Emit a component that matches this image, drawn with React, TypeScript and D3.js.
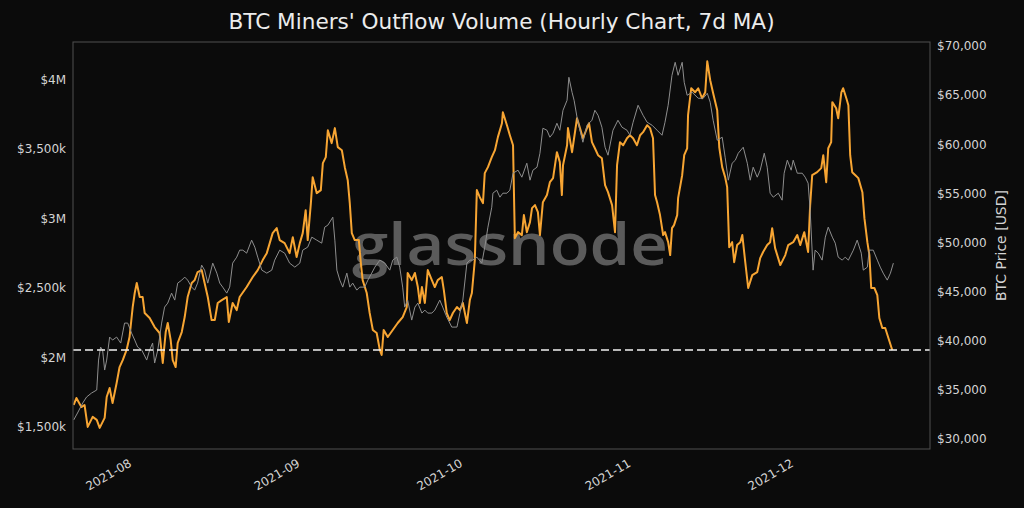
import React, { useRef, useEffect } from "react";
import * as d3 from "d3";

const title = "BTC Miners' Outflow Volume (Hourly Chart, 7d MA)";
const priceAxisLabel = "BTC Price [USD]";
const watermark = "glassnode";

// left axis, in thousands of USD
const volumeTicks = [1500, 2000, 2500, 3000, 3500, 4000];
const volumeTickLabels = ["$1,500k", "$2M", "$2,500k", "$3M", "$3,500k", "$4M"];
const priceTicks = [30000, 35000, 40000, 45000, 50000, 55000, 60000, 65000, 70000];
const monthTicks = ["2021-08-01T00", "2021-09-01T00", "2021-10-01T00", "2021-11-01T00", "2021-12-01T00"];
const monthTickLabels = ["2021-08", "2021-09", "2021-10", "2021-11", "2021-12"];

// miners' outflow volume, 7d MA (thousands of USD)
const outflowVolume: [string, number][] = [
  ["2021-07-22T00", 1657], ["2021-07-22T12", 1707], ["2021-07-23T10", 1642], ["2021-07-24T00", 1657],
  ["2021-07-24T14", 1499], ["2021-07-25T12", 1571], ["2021-07-26T06", 1550], ["2021-07-26T19", 1492],
  ["2021-07-27T17", 1564], ["2021-07-28T02", 1714], ["2021-07-28T15", 1779], ["2021-07-29T04", 1671],
  ["2021-07-29T22", 1815], ["2021-07-30T11", 1930], ["2021-07-31T01", 1980], ["2021-07-31T18", 2053],
  ["2021-08-01T07", 2146], ["2021-08-01T21", 2362], ["2021-08-02T06", 2463], ["2021-08-02T15", 2535],
  ["2021-08-03T04", 2434], ["2021-08-03T17", 2434], ["2021-08-04T02", 2319], ["2021-08-05T00", 2283],
  ["2021-08-05T22", 2218], ["2021-08-06T20", 2175], ["2021-08-07T10", 1959], ["2021-08-07T23", 2182],
  ["2021-08-08T08", 2247], ["2021-08-08T21", 2124], ["2021-08-09T06", 1980], ["2021-08-09T19", 1930],
  ["2021-08-10T04", 2103], ["2021-08-10T22", 2182], ["2021-08-11T11", 2290], ["2021-08-12T00", 2434],
  ["2021-08-12T18", 2535], ["2021-08-13T07", 2556], ["2021-08-13T20", 2614], ["2021-08-14T14", 2628],
  ["2021-08-15T03", 2535], ["2021-08-15T17", 2434], ["2021-08-16T10", 2268], ["2021-08-17T00", 2268],
  ["2021-08-17T13", 2391], ["2021-08-18T07", 2412], ["2021-08-19T05", 2434], ["2021-08-19T14", 2254],
  ["2021-08-20T07", 2391], ["2021-08-21T01", 2340], ["2021-08-21T14", 2434], ["2021-08-22T21", 2506],
  ["2021-08-24T00", 2578], ["2021-08-24T22", 2628], ["2021-08-25T20", 2700], ["2021-08-26T14", 2750],
  ["2021-08-27T03", 2822], ["2021-08-27T16", 2894], ["2021-08-28T10", 2930], ["2021-08-28T23", 2844],
  ["2021-08-29T21", 2822], ["2021-08-30T19", 2750], ["2021-08-31T09", 2865], ["2021-09-01T02", 2722],
  ["2021-09-01T16", 2822], ["2021-09-02T05", 2894], ["2021-09-02T18", 3059], ["2021-09-03T03", 2844],
  ["2021-09-03T17", 3110], ["2021-09-04T01", 3297], ["2021-09-04T19", 3182], ["2021-09-05T13", 3204],
  ["2021-09-05T22", 3398], ["2021-09-06T11", 3441], ["2021-09-06T20", 3635], ["2021-09-07T13", 3542],
  ["2021-09-08T03", 3650], ["2021-09-08T16", 3513], ["2021-09-09T10", 3491], ["2021-09-09T23", 3369],
  ["2021-09-10T12", 3275], ["2021-09-10T21", 3110], ["2021-09-11T06", 2894], ["2021-09-11T19", 2844],
  ["2021-09-12T13", 2844], ["2021-09-12T22", 2678], ["2021-09-13T06", 2556], ["2021-09-14T00", 2463],
  ["2021-09-14T13", 2319], ["2021-09-15T03", 2197], ["2021-09-15T20", 2175], ["2021-09-16T10", 2053],
  ["2021-09-16T18", 2017], ["2021-09-17T03", 2197], ["2021-09-17T21", 2146], ["2021-09-18T19", 2197],
  ["2021-09-19T17", 2247], ["2021-09-20T15", 2290], ["2021-09-21T09", 2362], ["2021-09-21T13", 2607],
  ["2021-09-22T07", 2556], ["2021-09-22T21", 2607], ["2021-09-23T10", 2506], ["2021-09-23T19", 2391],
  ["2021-09-24T04", 2506], ["2021-09-24T17", 2391], ["2021-09-25T06", 2628], ["2021-09-26T00", 2556],
  ["2021-09-26T13", 2506], ["2021-09-27T02", 2556], ["2021-09-27T20", 2578], ["2021-09-28T05", 2484],
  ["2021-09-28T18", 2319], ["2021-09-29T07", 2268], ["2021-09-29T21", 2319], ["2021-09-30T15", 2362],
  ["2021-10-01T04", 2340], ["2021-10-01T17", 2391], ["2021-10-02T11", 2247], ["2021-10-03T00", 2412],
  ["2021-10-03T09", 2463], ["2021-10-03T22", 2700], ["2021-10-04T07", 3204], ["2021-10-04T20", 3153],
  ["2021-10-05T10", 3110], ["2021-10-05T18", 3326], ["2021-10-06T08", 3369], ["2021-10-07T01", 3441],
  ["2021-10-07T15", 3491], ["2021-10-08T04", 3585], ["2021-10-08T22", 3685], ["2021-10-09T02", 3764],
  ["2021-10-09T20", 3671], ["2021-10-10T09", 3599], ["2021-10-10T23", 3527], ["2021-10-11T07", 2858],
  ["2021-10-11T21", 2901], ["2021-10-12T14", 2880], ["2021-10-12T23", 3024], ["2021-10-13T12", 2901],
  ["2021-10-14T02", 2973], ["2021-10-14T11", 3074], ["2021-10-15T00", 3096], ["2021-10-15T13", 3045],
  ["2021-10-15T22", 2880], ["2021-10-16T11", 3117], ["2021-10-17T05", 3168], ["2021-10-17T18", 3261],
  ["2021-10-18T08", 3290], ["2021-10-19T01", 3477], ["2021-10-19T14", 3405], ["2021-10-19T23", 3168],
  ["2021-10-20T04", 3383], ["2021-10-20T22", 3527], ["2021-10-21T02", 3650], ["2021-10-21T20", 3477],
  ["2021-10-22T05", 3577], ["2021-10-22T18", 3721], ["2021-10-23T07", 3650], ["2021-10-23T20", 3577],
  ["2021-10-24T14", 3650], ["2021-10-24T23", 3685], ["2021-10-25T12", 3549], ["2021-10-26T01", 3505],
  ["2021-10-26T15", 3455], ["2021-10-27T08", 3433], ["2021-10-27T22", 3239], ["2021-10-28T11", 3189],
  ["2021-10-29T05", 3096], ["2021-10-29T18", 2901], ["2021-10-30T03", 3383], ["2021-10-30T16", 3549],
  ["2021-10-31T06", 3527], ["2021-10-31T23", 3577], ["2021-11-01T12", 3599], ["2021-11-02T02", 3577],
  ["2021-11-02T19", 3527], ["2021-11-03T09", 3599], ["2021-11-03T22", 3621], ["2021-11-04T16", 3671],
  ["2021-11-05T05", 3650], ["2021-11-05T18", 3577], ["2021-11-06T03", 3168], ["2021-11-06T12", 3117],
  ["2021-11-07T01", 3024], ["2021-11-07T15", 2880], ["2021-11-07T23", 2901], ["2021-11-08T13", 2829],
  ["2021-11-08T22", 2736], ["2021-11-09T06", 2930], ["2021-11-09T15", 2952], ["2021-11-10T05", 3024],
  ["2021-11-10T09", 3146], ["2021-11-11T03", 3311], ["2021-11-11T12", 3455], ["2021-11-12T01", 3505],
  ["2021-11-12T05", 3743], ["2021-11-12T19", 3937], ["2021-11-13T12", 3908], ["2021-11-14T02", 3937],
  ["2021-11-14T19", 3865], ["2021-11-15T09", 3908], ["2021-11-15T18", 4131], ["2021-11-16T07", 3995],
  ["2021-11-16T20", 3901], ["2021-11-17T14", 3778], ["2021-11-17T23", 3512], ["2021-11-18T12", 3369],
  ["2021-11-19T01", 3297], ["2021-11-19T10", 3225], ["2021-11-19T19", 2793], ["2021-11-20T08", 2829],
  ["2021-11-20T17", 2685], ["2021-11-21T06", 2808], ["2021-11-21T20", 2829], ["2021-11-22T05", 2880],
  ["2021-11-22T18", 2685], ["2021-11-23T07", 2499], ["2021-11-24T01", 2592], ["2021-11-24T23", 2614],
  ["2021-11-25T12", 2714], ["2021-11-26T01", 2758], ["2021-11-26T19", 2808], ["2021-11-27T08", 2829],
  ["2021-11-27T17", 2930], ["2021-11-28T06", 2786], ["2021-11-29T05", 2664], ["2021-11-30T03", 2736],
  ["2021-11-30T16", 2808], ["2021-12-01T14", 2829], ["2021-12-02T08", 2880], ["2021-12-02T21", 2808],
  ["2021-12-03T15", 2901], ["2021-12-04T08", 2758], ["2021-12-04T17", 3096], ["2021-12-05T02", 3311],
  ["2021-12-06T00", 3333], ["2021-12-06T18", 3362], ["2021-12-07T03", 3455], ["2021-12-07T16", 3261],
  ["2021-12-08T01", 3505], ["2021-12-08T14", 3549], ["2021-12-08T19", 3837], ["2021-12-09T12", 3793],
  ["2021-12-09T21", 3721], ["2021-12-10T11", 3908], ["2021-12-10T19", 3937], ["2021-12-11T09", 3865],
  ["2021-12-11T18", 3815], ["2021-12-12T02", 3455], ["2021-12-12T11", 3333], ["2021-12-13T01", 3311],
  ["2021-12-13T14", 3290], ["2021-12-14T08", 3189], ["2021-12-14T17", 3002], ["2021-12-15T06", 2829],
  ["2021-12-15T15", 2736], ["2021-12-15T23", 2499], ["2021-12-16T13", 2499], ["2021-12-17T02", 2448],
  ["2021-12-17T11", 2283], ["2021-12-18T00", 2211], ["2021-12-18T13", 2211], ["2021-12-19T03", 2139],
  ["2021-12-19T20", 2053],
];

// BTC price (USD)
const btcPrice: [string, number][] = [
  ["2021-07-22T00", 31904], ["2021-07-22T17", 32617], ["2021-07-23T16", 33635], ["2021-07-24T09", 34245],
  ["2021-07-25T07", 34652], ["2021-07-26T06", 34958], ["2021-07-26T14", 38012], ["2021-07-26T23", 39335],
  ["2021-07-27T08", 39030], ["2021-07-27T17", 36994], ["2021-07-28T02", 38012], ["2021-07-28T15", 40353],
  ["2021-07-29T04", 40048], ["2021-07-29T22", 40353], ["2021-07-30T16", 39742], ["2021-07-31T09", 41778],
  ["2021-07-31T23", 41778], ["2021-08-01T16", 40760], ["2021-08-02T06", 40048], ["2021-08-02T19", 39335],
  ["2021-08-03T13", 39030], ["2021-08-04T11", 38012], ["2021-08-05T00", 39030], ["2021-08-05T13", 39742],
  ["2021-08-05T22", 37707], ["2021-08-06T12", 39030], ["2021-08-07T05", 41778], ["2021-08-07T18", 43407],
  ["2021-08-08T08", 43814], ["2021-08-09T01", 44832], ["2021-08-09T15", 44119], ["2021-08-10T04", 45850],
  ["2021-08-10T22", 46155], ["2021-08-11T11", 46461], ["2021-08-12T00", 46155], ["2021-08-12T18", 45443],
  ["2021-08-13T07", 45137], ["2021-08-13T20", 45850], ["2021-08-14T14", 47682], ["2021-08-15T03", 47173],
  ["2021-08-15T17", 45850], ["2021-08-16T15", 47886], ["2021-08-17T09", 46868], ["2021-08-17T22", 45850],
  ["2021-08-18T11", 45443], ["2021-08-19T05", 44832], ["2021-08-19T18", 45443], ["2021-08-20T07", 47886],
  ["2021-08-21T01", 48497], ["2021-08-21T14", 49209], ["2021-08-22T04", 49209], ["2021-08-22T21", 48904],
  ["2021-08-23T19", 50227], ["2021-08-24T09", 49515], ["2021-08-24T22", 48497], ["2021-08-25T16", 47173],
  ["2021-08-26T14", 46868], ["2021-08-27T12", 47173], ["2021-08-28T01", 48191], ["2021-08-28T23", 49209],
  ["2021-08-29T21", 48904], ["2021-08-30T19", 47886], ["2021-08-31T18", 47478], ["2021-09-01T16", 47886],
  ["2021-09-02T05", 49209], ["2021-09-03T03", 49515], ["2021-09-03T21", 50533], ["2021-09-04T19", 50227],
  ["2021-09-05T17", 49922], ["2021-09-06T06", 51551], ["2021-09-06T20", 51755], ["2021-09-07T18", 52569],
  ["2021-09-08T03", 50227], ["2021-09-08T12", 47173], ["2021-09-09T01", 46155], ["2021-09-09T14", 45443],
  ["2021-09-10T08", 46868], ["2021-09-10T21", 45443], ["2021-09-11T10", 45850], ["2021-09-12T04", 45137],
  ["2021-09-12T17", 45443], ["2021-09-13T15", 45443], ["2021-09-14T05", 46155], ["2021-09-14T22", 46868],
  ["2021-09-15T12", 47478], ["2021-09-16T10", 48191], ["2021-09-17T08", 47886], ["2021-09-18T06", 47173],
  ["2021-09-18T19", 48191], ["2021-09-19T13", 48497], ["2021-09-20T02", 47478], ["2021-09-20T15", 45443],
  ["2021-09-21T00", 43407], ["2021-09-21T13", 44119], ["2021-09-22T07", 42083], ["2021-09-22T21", 43407],
  ["2021-09-23T10", 43814], ["2021-09-24T04", 42796], ["2021-09-24T17", 43101], ["2021-09-25T06", 42796],
  ["2021-09-26T00", 42796], ["2021-09-26T13", 43101], ["2021-09-27T11", 44119], ["2021-09-28T00", 43407],
  ["2021-09-28T18", 42389], ["2021-09-29T16", 41371], ["2021-09-30T15", 41371], ["2021-10-01T04", 42796],
  ["2021-10-01T17", 44119], ["2021-10-02T11", 47886], ["2021-10-03T00", 48191], ["2021-10-03T13", 48191],
  ["2021-10-04T07", 48497], ["2021-10-05T05", 47886], ["2021-10-05T18", 49515], ["2021-10-06T08", 51551],
  ["2021-10-07T01", 53587], ["2021-10-07T06", 55012], ["2021-10-07T23", 55318], ["2021-10-08T13", 54605],
  ["2021-10-09T02", 55012], ["2021-10-09T20", 55012], ["2021-10-10T09", 55318], ["2021-10-10T23", 57048],
  ["2021-10-11T21", 57354], ["2021-10-12T14", 56641], ["2021-10-13T12", 58066], ["2021-10-14T02", 56336],
  ["2021-10-14T15", 57354], ["2021-10-15T09", 57659], ["2021-10-15T22", 59084], ["2021-10-16T11", 61629],
  ["2021-10-17T05", 61425], ["2021-10-17T18", 60713], ["2021-10-18T08", 61120], ["2021-10-19T01", 62138],
  ["2021-10-19T14", 61425], ["2021-10-20T04", 63461], ["2021-10-20T22", 64479], ["2021-10-21T06", 66820],
  ["2021-10-21T20", 65293], ["2021-10-22T05", 64479], ["2021-10-22T18", 62748], ["2021-10-23T07", 61425],
  ["2021-10-23T20", 60203], ["2021-10-24T14", 61934], ["2021-10-25T12", 62443], ["2021-10-26T01", 63461],
  ["2021-10-26T15", 62952], ["2021-10-27T08", 61731], ["2021-10-27T22", 59695], ["2021-10-28T11", 58881],
  ["2021-10-29T09", 61425], ["2021-10-30T07", 62443], ["2021-10-31T01", 61731], ["2021-10-31T23", 61425],
  ["2021-11-01T12", 60917], ["2021-11-02T02", 62240], ["2021-11-03T00", 63970], ["2021-11-03T22", 62952],
  ["2021-11-04T16", 62240], ["2021-11-05T14", 61934], ["2021-11-06T12", 61425], ["2021-11-07T10", 60917],
  ["2021-11-07T23", 62240], ["2021-11-08T13", 63970], ["2021-11-09T06", 67024], ["2021-11-09T20", 68347],
  ["2021-11-10T09", 67024], ["2021-11-11T03", 68347], ["2021-11-11T12", 66311], ["2021-11-12T01", 64988],
  ["2021-11-12T23", 65293], ["2021-11-14T02", 64683], ["2021-11-15T00", 64683], ["2021-11-15T18", 65191],
  ["2021-11-16T07", 64275], ["2021-11-16T20", 62443], ["2021-11-17T14", 60407], ["2021-11-18T12", 60713],
  ["2021-11-19T01", 58677], ["2021-11-19T15", 56336], ["2021-11-20T08", 58066], ["2021-11-20T22", 58372],
  ["2021-11-21T11", 59084], ["2021-11-22T09", 59695], ["2021-11-23T03", 58066], ["2021-11-23T16", 56336],
  ["2021-11-24T05", 57659], ["2021-11-24T23", 56641], ["2021-11-25T12", 57354], ["2021-11-26T06", 59084],
  ["2021-11-26T19", 57659], ["2021-11-27T08", 55012], ["2021-11-27T22", 54605], ["2021-11-28T20", 55012],
  ["2021-11-29T13", 54299], ["2021-11-29T22", 57048], ["2021-11-30T12", 58372], ["2021-12-01T05", 57354],
  ["2021-12-01T14", 58372], ["2021-12-02T08", 57048], ["2021-12-03T06", 57048], ["2021-12-03T19", 56641],
  ["2021-12-04T08", 56031], ["2021-12-04T17", 53282], ["2021-12-05T06", 47173], ["2021-12-05T15", 49209],
  ["2021-12-06T05", 48904], ["2021-12-06T22", 48191], ["2021-12-07T12", 50533], ["2021-12-08T01", 51551],
  ["2021-12-08T19", 50533], ["2021-12-09T08", 49922], ["2021-12-09T21", 48497], ["2021-12-10T15", 48191],
  ["2021-12-11T04", 48497], ["2021-12-11T18", 48191], ["2021-12-12T16", 49209], ["2021-12-13T09", 50227],
  ["2021-12-14T03", 48904], ["2021-12-14T12", 47173], ["2021-12-15T06", 47478], ["2021-12-15T14", 49209],
  ["2021-12-16T08", 49209], ["2021-12-17T02", 48191], ["2021-12-17T15", 47478], ["2021-12-18T04", 46868],
  ["2021-12-18T22", 46155], ["2021-12-19T12", 46868], ["2021-12-20T01", 47886],
];

const timeStart = "2021-07-21T21";
const timeEnd = "2021-12-26T19";

const parseHour = d3.timeParse("%Y-%m-%dT%H");

const App: React.FC = () => {
  const svgRef = useRef<SVGSVGElement>(null);
  const width = 1024;
  const height = 508;

  useEffect(() => {
    document.body.style.margin = "0";
    document.body.style.background = "#0b0b0b";

    const svg = d3.select(svgRef.current);
    svg.selectAll("*").remove();

    const margin = { top: 42, right: 94, bottom: 59, left: 73 };
    const chartWidth = width - margin.left - margin.right;
    const chartHeight = height - margin.top - margin.bottom;
    const font = "'DejaVu Sans', sans-serif";

    svg.append("rect").attr("width", width).attr("height", height).attr("fill", "#0b0b0b");

    const g = svg.append("g").attr("transform", `translate(${margin.left},${margin.top})`);

    const x = d3
      .scaleTime()
      .domain([parseHour(timeStart)!, parseHour(timeEnd)!])
      .range([0, chartWidth]);
    const yVolume = d3.scaleLinear().domain([1340, 4270]).range([chartHeight, 0]);
    const yPrice = d3.scaleLinear().domain([28950, 70415]).range([chartHeight, 0]);

    svg
      .append("defs")
      .append("clipPath")
      .attr("id", "plot-clip")
      .append("rect")
      .attr("width", chartWidth)
      .attr("height", chartHeight);

    // Title
    g.append("text")
      .attr("x", chartWidth / 2)
      .attr("y", -13.5)
      .attr("text-anchor", "middle")
      .attr("font-family", font)
      .attr("font-size", 21.6)
      .attr("fill", "#ececec")
      .text(title);

    // Left axis (volume)
    const leftAxis = g
      .append("g")
      .call(
        d3
          .axisLeft(yVolume)
          .tickValues(volumeTicks)
          .tickSize(0)
          .tickPadding(7)
          .tickFormat((_, i) => volumeTickLabels[i])
      );
    leftAxis.select(".domain").remove();
    leftAxis.selectAll("text").attr("font-family", font).attr("font-size", 12).attr("fill", "#d4d4d4");

    // Right axis (price)
    const rightAxis = g
      .append("g")
      .attr("transform", `translate(${chartWidth},0)`)
      .call(
        d3
          .axisRight(yPrice)
          .tickValues(priceTicks)
          .tickSize(0)
          .tickPadding(7)
          .tickFormat((d) => "$" + d3.format(",")(d as number))
      );
    rightAxis.select(".domain").remove();
    rightAxis.selectAll("text").attr("font-family", font).attr("font-size", 12).attr("fill", "#d4d4d4");

    g.append("text")
      .attr("transform", `translate(${chartWidth + 71},${chartHeight / 2}) rotate(-90)`)
      .attr("text-anchor", "middle")
      .attr("dominant-baseline", "central")
      .attr("font-family", font)
      .attr("font-size", 14)
      .attr("fill", "#d4d4d4")
      .text(priceAxisLabel);

    // Month ticks, rotated like matplotlib's autofmt_xdate
    g.selectAll(".month")
      .data(monthTicks)
      .enter()
      .append("text")
      .attr("class", "month")
      .attr("transform", (d) => `translate(${x(parseHour(d)!)},${chartHeight + 9}) rotate(-30)`)
      .attr("text-anchor", "end")
      .attr("dy", "0.74em")
      .attr("font-family", font)
      .attr("font-size", 12)
      .attr("fill", "#d4d4d4")
      .text((_, i) => monthTickLabels[i]);

    // Watermark sits under the lines
    g.append("text")
      .attr("x", 437)
      .attr("y", 223)
      .attr("text-anchor", "middle")
      .attr("font-family", "'Open Sans', 'Noto Sans', sans-serif")
      .attr("font-weight", 600)
      .attr("font-size", 57)
      .attr("textLength", 316)
      .attr("lengthAdjust", "spacingAndGlyphs")
      .attr("fill", "#5b5b5b")
      .text(watermark);

    const plot = g.append("g").attr("clip-path", "url(#plot-clip)");

    const volumeLine = d3
      .line<[string, number]>()
      .x((d) => x(parseHour(d[0])!))
      .y((d) => yVolume(d[1]));
    const priceLine = d3
      .line<[string, number]>()
      .x((d) => x(parseHour(d[0])!))
      .y((d) => yPrice(d[1]));

    plot
      .append("path")
      .datum(outflowVolume)
      .attr("d", volumeLine)
      .attr("fill", "none")
      .attr("stroke", "#f7a533")
      .attr("stroke-width", 2)
      .attr("stroke-linejoin", "round");

    plot
      .append("path")
      .datum(btcPrice)
      .attr("d", priceLine)
      .attr("fill", "none")
      .attr("stroke", "#8e8e8e")
      .attr("stroke-width", 1)
      .attr("stroke-linejoin", "round");

    // Current level
    const lastVolume = outflowVolume[outflowVolume.length - 1][1];
    plot
      .append("line")
      .attr("x1", 0)
      .attr("x2", chartWidth)
      .attr("y1", yVolume(lastVolume))
      .attr("y2", yVolume(lastVolume))
      .attr("stroke", "#f2f2f2")
      .attr("stroke-width", 1.6)
      .attr("stroke-dasharray", "8,4");

    // Frame
    g.append("rect")
      .attr("width", chartWidth)
      .attr("height", chartHeight)
      .attr("fill", "none")
      .attr("stroke", "#505050")
      .attr("stroke-width", 1);
  }, []);

  return <svg ref={svgRef} width={width} height={height} style={{ display: "block" }} />;
};

export default App;
